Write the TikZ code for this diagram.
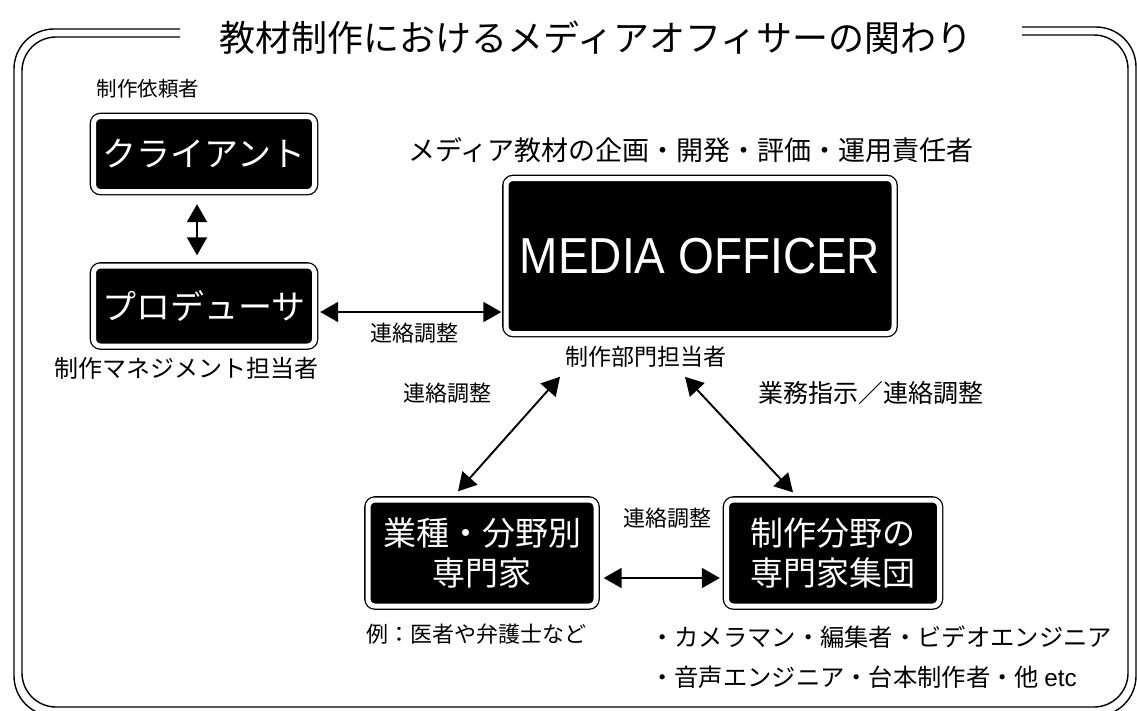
\documentclass[tikz,border=0pt]{standalone}
\usepackage{fontspec}
\setmainfont{Noto Sans CJK JP}
\newfontfamily\latfont{Liberation Sans}
\usetikzlibrary{arrows.meta,calc}
\begin{document}
\begin{tikzpicture}[x=1pt,y=-1pt,
  frameline/.style={line width=1.4pt, rounded corners=40pt},
  box/.style={fill=black, draw=black, double=white, double distance=5pt, line width=1.3pt,
    rounded corners=7pt, text=white, inner sep=0pt, align=center,
    font=\fontsize{33}{40}\selectfont},
  lbl/.style={font=\fontsize{22}{26}\selectfont, inner sep=0pt},
  ttl/.style={font=\fontsize{36}{40}\selectfont, inner sep=0pt},
  arr/.style={{Triangle[length=18pt,width=20pt]}-{Triangle[length=18pt,width=20pt]}, line width=1.9pt},
]
\useasboundingbox (0,0) rectangle (1137,710);
\clip (0,0) rectangle (1137,710);
% frame
\draw[frameline] (180,29) -- (14,29) -- (14,716) -- (1136,716) -- (1136,27) -- (1022,27);
\draw[frameline, rounded corners=34pt] (180,37) -- (22,37) -- (22,707) -- (1128,707) -- (1128,35) -- (1022,35);
\node[ttl] (title) at (596,38) {教材制作におけるメディアオフィサーの関わり};
% nodes
\node[lbl, font=\fontsize{20.5}{24}\selectfont] (req) at (148,89) {制作依頼者};
\node[box, font=\fontsize{34}{40}\selectfont, minimum width=221, minimum height=75] (client) at (204,154) {クライアント};
\node[box, font=\fontsize{34}{40}\selectfont, minimum width=221, minimum height=80] (prod) at (204,306) {プロデューサ};
\node[lbl, font=\fontsize{24}{28}\selectfont] (mgr) at (186,368) {制作マネジメント担当者};
\node[lbl, font=\fontsize{27}{30}\selectfont] (resp) at (691,150) {メディア教材の企画・開発・評価・運用責任者};
\node[box, minimum width=388, minimum height=155] (mo) at (700,256) {\latfont\fontsize{46}{50}\selectfont\scalebox{1}[1.1]{MEDIA OFFICER}};
\node[lbl, font=\fontsize{23}{26}\selectfont] (dept) at (646,357) {制作部門担当者};
\node[box, minimum width=228, minimum height=106] (exp) at (482,553) {業種・分野別\\専門家};
\node[box, minimum width=213, minimum height=106] (grp) at (833,553) {制作分野の\\専門家集団};
\node[lbl] (ex) at (476,634) {例：医者や弁護士など};
\node[lbl, anchor=west, font=\fontsize{24.3}{30}\selectfont] (l1) at (650,637) {・カメラマン・編集者・ビデオエンジニア};
\node[lbl, anchor=west, font=\fontsize{24.3}{30}\selectfont] (l2) at (650,677) {・音声エンジニア・台本制作者・他 {\latfont etc}};
\node[lbl] (c1) at (414,333) {連絡調整};
\node[lbl] (c2) at (447,393) {連絡調整};
\node[lbl, font=\fontsize{25}{28}\selectfont] (c3) at (871,393) {業務指示／連絡調整};
\node[lbl] (c4) at (667,518) {連絡調整};
% connectors
\draw[arr, shorten <=12pt, shorten >=10pt] ($(client.south)+(-7,0)$) -- ($(prod.north)+(-7,0)$);
\draw[arr, shorten <=5pt, shorten >=4pt] ($(prod.east)+(0,6)$) -- ($(prod.east -| mo.west)+(0,6)$);
\draw[arr] ($(dept.south)+(-86,9)$) -- ($(exp.north)+(-24,-8)$);
\draw[arr] ($(dept.south)+(39,9)$) -- ($(grp.north)+(-40,-7)$);
\draw[arr, shorten <=7pt, shorten >=6pt] ($(exp.east)+(0,25)$) -- ($(exp.east -| grp.west)+(0,25)$);
\end{tikzpicture}
\end{document}
